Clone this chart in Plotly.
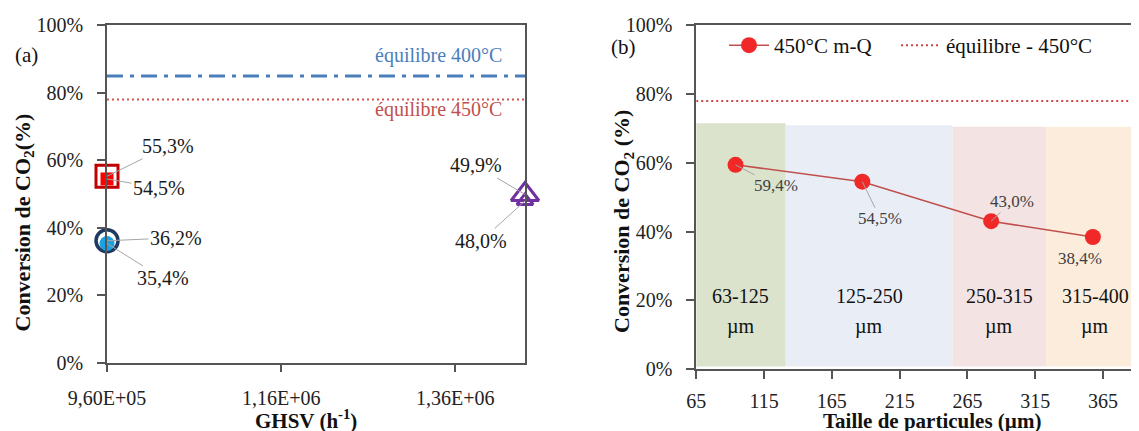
import plotly.graph_objects as go

# The page adds an 8px body margin; the figure is sized so that it fills the window.
OFF = 8
W, H = 1139 - OFF, 431 - OFF
FONT = "Liberation Serif, Times New Roman, serif"

# ---------------- Panel (a) data ----------------
ghsv_ticks = [9.6e5, 1.16e6, 1.36e6]
ghsv_tick_labels = ["9,60E+05", "1,16E+06", "1,36E+06"]
ghsv_range = [9.6e5, 1.44e6]

square_open_x = [9.6e5]
square_open_y = [55.3]
square_fill_x = [9.6e5]
square_fill_y = [54.5]
circle_open_x = [9.6e5]
circle_open_y = [36.2]
circle_fill_x = [9.6e5]
circle_fill_y = [35.4]
tri_outer_x = [1.44e6]
tri_outer_y = [49.9]
tri_inner_x = [1.44e6]
tri_inner_y = [48.0]
eq_400 = 85.0
eq_450 = 78.0

# ---------------- Panel (b) data ----------------
size_x = [94, 187.5, 282.5, 357.5]
conv_b = [59.4, 54.5, 43.0, 38.4]
conv_b_labels = ["59,4%", "54,5%", "43,0%", "38,4%"]
size_ticks = [65, 115, 165, 215, 265, 315, 365]
size_range = [65, 391.5]
region_edges = [65, 131, 254, 323, 400]
region_tops = [71.5, 70.9, 70.5, 70.5]
region_bottom = 0.7
region_names = ["63-125", "125-250", "250-315", "315-400"]
region_colors = ["#dbe3cc", "#e9eef6", "#f3e3e3", "#fcecdc"]
eq_b = 78.0

pct_ticks = [0, 20, 40, 60, 80, 100]
pct_tick_labels = ["0%", "20%", "40%", "60%", "80%", "100%"]


def px(x):
    return (x - OFF) / W


def py(y):
    return 1 - (y - OFF) / H


fig = go.Figure()

# ---- Panel (a) traces ----
fig.add_trace(go.Scatter(x=ghsv_range, y=[eq_400, eq_400], mode="lines",
                         line=dict(color="#4a7ebb", width=3, dash="16px,7px,4px,7px"),
                         xaxis="x", yaxis="y", showlegend=False, hoverinfo="skip"))
fig.add_trace(go.Scatter(x=ghsv_range, y=[eq_450, eq_450], mode="lines",
                         line=dict(color="#d9534f", width=2, dash="2px,3px"),
                         xaxis="x", yaxis="y", showlegend=False, hoverinfo="skip"))
fig.add_trace(go.Scatter(x=square_open_x, y=square_open_y, mode="markers",
                         marker=dict(symbol="square-open", size=22, color="#c00000",
                                     line=dict(width=3, color="#c00000")),
                         xaxis="x", yaxis="y", showlegend=False, cliponaxis=False))
fig.add_trace(go.Scatter(x=square_fill_x, y=square_fill_y, mode="markers",
                         marker=dict(symbol="square", size=13, color="#ff0000"),
                         xaxis="x", yaxis="y", showlegend=False, cliponaxis=False))
fig.add_trace(go.Scatter(x=circle_open_x, y=circle_open_y, mode="markers",
                         marker=dict(symbol="circle-open", size=22, color="#1f3a60",
                                     line=dict(width=3.5, color="#1f3a60")),
                         xaxis="x", yaxis="y", showlegend=False, cliponaxis=False))
fig.add_trace(go.Scatter(x=circle_fill_x, y=circle_fill_y, mode="markers",
                         marker=dict(symbol="circle", size=15, color="#1ba1e2"),
                         xaxis="x", yaxis="y", showlegend=False, cliponaxis=False))
fig.add_trace(go.Scatter(x=tri_outer_x, y=tri_outer_y, mode="markers",
                         marker=dict(symbol="triangle-up-open", size=24, color="#7030a0",
                                     line=dict(width=3, color="#7030a0")),
                         xaxis="x", yaxis="y", showlegend=False, cliponaxis=False))
fig.add_trace(go.Scatter(x=tri_inner_x, y=tri_inner_y, mode="markers",
                         marker=dict(symbol="triangle-up-open", size=14, color="#7030a0",
                                     line=dict(width=3, color="#7030a0")),
                         xaxis="x", yaxis="y", showlegend=False, cliponaxis=False))

# ---- Panel (b) traces ----
fig.add_trace(go.Scatter(x=size_x, y=conv_b, mode="lines+markers", name="450°C m-Q",
                         line=dict(color="#c0504d", width=1.5),
                         marker=dict(symbol="circle", size=16, color="#f02828"),
                         xaxis="x2", yaxis="y2", cliponaxis=False, legend="legend"))
fig.add_trace(go.Scatter(x=[region_edges[0], region_edges[-1]], y=[eq_b, eq_b], mode="lines",
                         name="équilibre - 450°C",
                         line=dict(color="#d04545", width=2, dash="2px,3px"),
                         xaxis="x2", yaxis="y2", hoverinfo="skip", legend="legend2"))

shapes = []
for i, c in enumerate(region_colors):
    shapes.append(dict(type="rect", xref="x2", yref="y2",
                       x0=region_edges[i], x1=region_edges[i + 1],
                       y0=region_bottom, y1=region_tops[i],
                       fillcolor=c, line=dict(width=0), layer="below"))

annotations = []
txt_a = dict(family=FONT, size=20, color="#1a1a1a")
lead = dict(showarrow=True, arrowhead=0, arrowwidth=1, arrowcolor="#a6a6a6", standoff=0)

# panel (a) data labels
a_labels = [
    (square_open_x[0], square_open_y[0], "55,3%", 61, -30),
    (square_fill_x[0], square_fill_y[0], "54,5%", 52, 9),
    (circle_open_x[0], circle_open_y[0], "36,2%", 69, -3),
    (circle_fill_x[0], circle_fill_y[0], "35,4%", 56, 35),
    (tri_outer_x[0], tri_outer_y[0], "49,9%", -49, -29),
    (tri_inner_x[0], tri_inner_y[0], "48,0%", -44, 40),
]
for x, y, t, ax, ay in a_labels:
    annotations.append(dict(x=x, y=y, xref="x", yref="y", text=t, ax=ax, ay=ay,
                            font=txt_a, **lead))

# panel (b) data labels
b_offsets = [(40, 21, True), (18, 37, True), (21, -20, True), (-13, 21, False)]
txt_b = dict(family=FONT, size=17, color="#404040")
for (x, y, t), (ax, ay, arrow) in zip(zip(size_x, conv_b, conv_b_labels), b_offsets):
    if arrow:
        annotations.append(dict(x=x, y=y, xref="x2", yref="y2", text=t, ax=ax, ay=ay,
                                font=txt_b, **lead))
    else:
        annotations.append(dict(x=x, y=y, xref="x2", yref="y2", text=t, showarrow=False,
                                xshift=ax, yshift=-ay, font=txt_b))

# region labels
for i, n in enumerate(region_names):
    xm = (region_edges[i] + region_edges[i + 1]) / 2
    if i == len(region_names) - 1:
        xm = (region_edges[i] + size_range[1]) / 2 + 2
    annotations.append(dict(x=xm, y=21.3, xref="x2", yref="y2", text=n, showarrow=False,
                            xanchor="center", yanchor="middle",
                            font=dict(family=FONT, size=20, color="#111")))
    annotations.append(dict(x=xm, y=12.3, xref="x2", yref="y2", text="µm", showarrow=False,
                            xanchor="center", yanchor="middle",
                            font=dict(family=FONT, size=20, color="#111")))

# equilibrium labels panel (a)
annotations.append(dict(x=0.949, y=91.2, xref="x domain", yref="y", text="équilibre 400°C",
                        xanchor="right", yanchor="middle", showarrow=False,
                        font=dict(family=FONT, size=20, color="#4a7ebb")))
annotations.append(dict(x=0.949, y=75.2, xref="x domain", yref="y", text="équilibre 450°C",
                        xanchor="right", yanchor="middle", showarrow=False,
                        font=dict(family=FONT, size=20, color="#c0504d")))

ctr = dict(xref="paper", yref="paper", xanchor="center", yanchor="middle", showarrow=False)

# panel tags
annotations.append(dict(x=px(26.8), y=py(55), text="(a)",
                        font=dict(family=FONT, size=21, color="#111"), **ctr))
annotations.append(dict(x=px(623), y=py(47), text="(b)",
                        font=dict(family=FONT, size=21, color="#111"), **ctr))

# axis titles
title_font = dict(family=FONT, size=22, color="#111")
xtitle_font = dict(family=FONT, size=21, color="#111")
annotations.append(dict(x=px(23), y=py(222.5), text="<b>Conversion de CO<sub>2</sub>(%)</b>",
                        textangle=-90, font=title_font, **ctr))
annotations.append(dict(x=px(623), y=py(222), text="<b>Conversion de CO<sub>2</sub> (%)</b>",
                        textangle=-90, font=title_font, **ctr))
annotations.append(dict(x=px(306), y=py(419), text="<b>GHSV (h<sup>-1</sup>)</b>",
                        font=xtitle_font, **ctr))
annotations.append(dict(x=px(932), y=py(421), text="<b>Taille de particules (µm)</b>",
                        font=xtitle_font, **ctr))

axis_common = dict(showgrid=False, zeroline=False, showline=True, linecolor="#555555",
                   linewidth=1.5, ticks="outside", tickcolor="#555555", tickwidth=1.5,
                   automargin=False,
                   tickfont=dict(family=FONT, size=20, color="#222"))

legend_common = dict(orientation="h", xanchor="left", yanchor="top",
                     bgcolor="rgba(0,0,0,0)", font=dict(family=FONT, size=21, color="#111"),
                     itemwidth=40)

fig.update_layout(
    width=W, height=H,
    margin=dict(l=0, r=0, t=0, b=0, autoexpand=False),
    paper_bgcolor="white", plot_bgcolor="white",
    font=dict(family=FONT),
    xaxis=dict(domain=[px(107), px(525)], range=ghsv_range, tickvals=ghsv_ticks,
               ticktext=ghsv_tick_labels, ticklen=7, mirror=True, anchor="y",
               ticklabelstandoff=9, **axis_common),
    yaxis=dict(domain=[py(363), py(25.3)], range=[0, 100], tickvals=pct_ticks,
               ticktext=pct_tick_labels, ticklen=8, mirror=True, anchor="x",
               ticklabelstandoff=10, **axis_common),
    xaxis2=dict(domain=[px(696.2), 1.0], range=size_range, tickvals=size_ticks,
                ticktext=[str(v) for v in size_ticks],
                ticklen=8, mirror=True, anchor="y2", ticklabelstandoff=5, **axis_common),
    yaxis2=dict(domain=[py(369), py(25.3)], range=[0, 100], tickvals=pct_ticks,
                ticktext=pct_tick_labels, ticklen=8, mirror=False, anchor="x2",
                ticklabelstandoff=10, **axis_common),
    shapes=shapes,
    annotations=annotations,
    legend=dict(x=px(724), y=py(25), **legend_common),
    legend2=dict(x=px(896), y=py(25), **legend_common),
)

fig.write_html("out.html")
